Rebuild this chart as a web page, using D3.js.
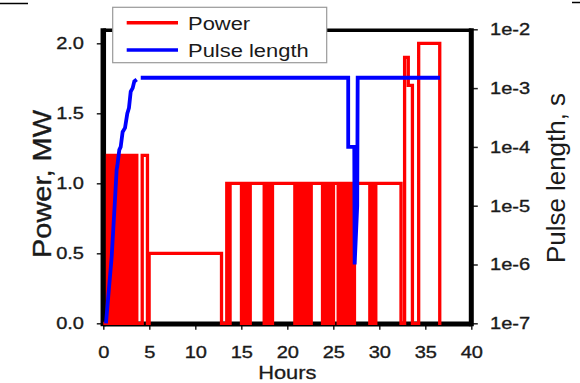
<!DOCTYPE html>
<html>
<head>
<meta charset="utf-8">
<script src="https://cdn.jsdelivr.net/npm/d3@7"></script>
<style>
  body { margin: 0; background: #fff; }
  svg { display: block; }
  text { font-family: "Liberation Sans", Arial, sans-serif; fill: #1a1a1a; }
</style>
</head>
<body>
<div class="chart"></div>
<script>
// power log: [start hour, end hour, MW] for every "on" interval, zero in between
const powerPulses = [
  [0.45, 0.63, 1.2], [0.82, 1.00, 1.2], [1.19, 1.38, 1.2], [1.56, 1.75, 1.2], [1.94, 2.12, 1.2],
  [2.31, 2.50, 1.2], [2.69, 2.88, 1.2], [3.07, 3.26, 1.2], [3.45, 3.64, 1.2],
  [4.23, 4.80, 1.2],
  [4.98, 12.85, 0.5],
  [13.42, 13.50, 1.0],
  [13.78, 15.02, 1.0], [15.21, 15.40, 1.0], [15.59, 15.78, 1.0],
  [15.97, 17.49, 1.0], [17.67, 17.85, 1.0], [18.03, 18.21, 1.0],
  [18.39, 20.82, 1.0], [21.02, 21.22, 1.0], [21.41, 21.61, 1.0], [21.81, 22.01, 1.0], [22.21, 22.40, 1.0],
  [22.60, 23.83, 1.0], [24.00, 24.17, 1.0], [24.34, 24.51, 1.0], [24.68, 24.85, 1.0],
  [25.02, 25.53, 1.0], [25.73, 25.92, 1.0], [26.12, 26.32, 1.0], [26.51, 26.71, 1.0], [26.91, 27.10, 1.0],
  [27.30, 28.97, 1.0], [29.19, 29.40, 1.0],
  [29.62, 32.36, 1.0],
  [32.75, 33.15, 1.9], [33.15, 33.60, 1.7],
  [34.28, 36.57, 2.0]
];
const powerEnd = 36.75;

// pulse length [hour, seconds]
const pulseRamp = [
  [0.29, 1e-7], [0.91, 1.35e-6], [1.27, 1.26e-5], [1.45, 4.1e-5], [1.52, 4.7e-5],
  [1.74, 8.9e-5], [1.89, 1.0e-4], [2.10, 1.8e-4], [2.36, 2.1e-4], [2.61, 3.7e-4],
  [2.79, 4.6e-4], [2.98, 8.7e-4], [3.19, 1.0e-3], [3.37, 1.3e-3], [3.63, 1.4e-3]
];
const pulseHold = [
  [4.07, 1.5e-3], [26.62, 1.5e-3], [26.62, 1.0e-4], [27.28, 1.0e-4],
  [27.32, 1.0e-6], [27.60, 1.0e-5], [27.65, 1.5e-3], [36.60, 1.5e-3]
];

const hourTicks = [0, 5, 10, 15, 20, 25, 30, 35, 40];
const powerTicks = [0, 0.5, 1.0, 1.5, 2.0];
const pulseTicks = [1e-7, 1e-6, 1e-5, 1e-4, 1e-3, 1e-2];

const W = 580, H = 383;
const K = 1.18; // text in the source is drawn a bit wide
const pL = 103.3, pR = 471.3, pT = 29.3, pB = 323.3;

const svg = d3.select(".chart").append("svg")
  .attr("width", W)
  .attr("height", H);

svg.append("rect").attr("width", W).attr("height", H).attr("fill", "#fff");

const x = d3.scaleLinear().domain([0, 40]).range([pL, pR]);
const yPower = d3.scaleLinear().domain([0, 2.1]).range([pB, pT]);
const yPulse = d3.scaleLog().domain([1e-7, 1e-2]).range([pB, pT]);

function widen(sel, extra) {
  sel.each(function () {
    const t = d3.select(this);
    const tx = +t.attr("x") || 0, ty = +t.attr("y") || 0;
    t.attr("x", null).attr("y", null)
      .attr("transform", `translate(${tx},${ty}) scale(${K},1)` + (extra || ""));
  });
}

// stray page rules at the top
svg.append("line").attr("x1", 0).attr("x2", 28).attr("y1", 3.5).attr("y2", 3.5)
  .attr("stroke", "#000").attr("stroke-width", 1.5);
svg.append("line").attr("x1", 572).attr("x2", 580).attr("y1", 2.5).attr("y2", 2.5)
  .attr("stroke", "#000").attr("stroke-width", 1.5);

// axes
const xAxis = svg.append("g")
  .attr("transform", `translate(0,${pB})`)
  .call(d3.axisBottom(x).tickValues(hourTicks).tickSize(6.5).tickPadding(16.5));

const yAxisL = svg.append("g")
  .attr("transform", `translate(${pL},0)`)
  .call(d3.axisLeft(yPower).tickValues(powerTicks).tickFormat(d3.format(".1f"))
    .tickSize(6.5).tickPadding(12.8));

const yAxisR = svg.append("g")
  .attr("transform", `translate(${pR},0)`)
  .call(d3.axisRight(yPulse).tickValues(pulseTicks)
    .tickFormat(d => "1e" + Math.round(Math.log10(d)))
    .tickSize(6.5).tickPadding(12.2));

[xAxis, yAxisL, yAxisR].forEach(a => {
  a.select(".domain").remove();
  a.style("font-size", "17px").attr("color", "#222");
  a.selectAll(".tick line").attr("stroke-width", 1.5);
  a.selectAll(".tick text").attr("stroke", "#1a1a1a").attr("stroke-width", 0.35);
  widen(a.selectAll(".tick text"));
});

// frame
const frame = svg.append("g").attr("stroke", "#000");
frame.append("line").attr("x1", pL).attr("x2", pL).attr("y1", pT - 1).attr("y2", pB + 3)
  .attr("stroke-width", 5.5);
frame.append("line").attr("x1", pR).attr("x2", pR).attr("y1", pT - 1).attr("y2", pB + 3)
  .attr("stroke-width", 5);
frame.append("line").attr("x1", pL).attr("x2", pR).attr("y1", pT + 1).attr("y2", pT + 1)
  .attr("stroke-width", 3.5);
frame.append("line").attr("x1", pL).attr("x2", pR).attr("y1", pB + 0.7).attr("y2", pB + 0.7)
  .attr("stroke-width", 5);

// power steps
const steps = [[0, 0]];
powerPulses.forEach((p, i) => {
  steps.push([p[0], p[2]]);
  const next = powerPulses[i + 1];
  if (!next || next[0] !== p[1]) steps.push([p[1], 0]);
});
steps.push([powerEnd, 0]);

svg.append("path")
  .datum(steps)
  .attr("fill", "none")
  .attr("stroke", "#ff0000")
  .attr("stroke-width", 3.3)
  .attr("d", d3.line().x(d => x(d[0])).y(d => yPower(d[1])).curve(d3.curveStepAfter));

const pulseLine = d3.line().x(d => x(d[0])).y(d => yPulse(d[1]));
[pulseRamp, pulseHold].forEach(seg => {
  svg.append("path")
    .datum(seg)
    .attr("fill", "none")
    .attr("stroke", "#0000ff")
    .attr("stroke-width", 3.8)
    .attr("d", pulseLine);
});

// axis titles
const tPower = svg.append("text")
  .attr("x", 51).attr("y", 184)
  .attr("text-anchor", "middle")
  .attr("font-size", "22.5px")
  .attr("stroke", "#1a1a1a").attr("stroke-width", 0.3)
  .attr("textLength", 148).attr("lengthAdjust", "spacingAndGlyphs")
  .text("Power, MW");
widen(tPower, " rotate(-90)");

const tPulse = svg.append("text")
  .attr("x", 565).attr("y", 178)
  .attr("text-anchor", "middle")
  .attr("font-size", "22px")
  .attr("textLength", 170).attr("lengthAdjust", "spacingAndGlyphs")
  .text("Pulse length, s");
widen(tPulse, " rotate(-90)");

const tHours = svg.append("text")
  .attr("x", (pL + pR) / 2).attr("y", 378.5)
  .attr("text-anchor", "middle")
  .attr("font-size", "18.5px")
  .attr("stroke", "#1a1a1a").attr("stroke-width", 0.3)
  .text("Hours");
widen(tHours);

// legend
const legend = svg.append("g");
legend.append("rect")
  .attr("x", 112.7).attr("y", 7.3).attr("width", 214).attr("height", 55.4)
  .attr("fill", "#fff").attr("stroke", "#999").attr("stroke-width", 1.2);
const items = [["Power", "#ff0000", 22.7], ["Pulse length", "#0000ff", 50]];
items.forEach(([name, col, ly]) => {
  legend.append("line")
    .attr("x1", 126.7).attr("x2", 178).attr("y1", ly).attr("y2", ly)
    .attr("stroke", col).attr("stroke-width", 3.5);
  const t = legend.append("text")
    .attr("x", 188).attr("y", ly + 6.8)
    .attr("font-size", "18.6px")
    .text(name);
  widen(t);
});
</script>
</body>
</html>
